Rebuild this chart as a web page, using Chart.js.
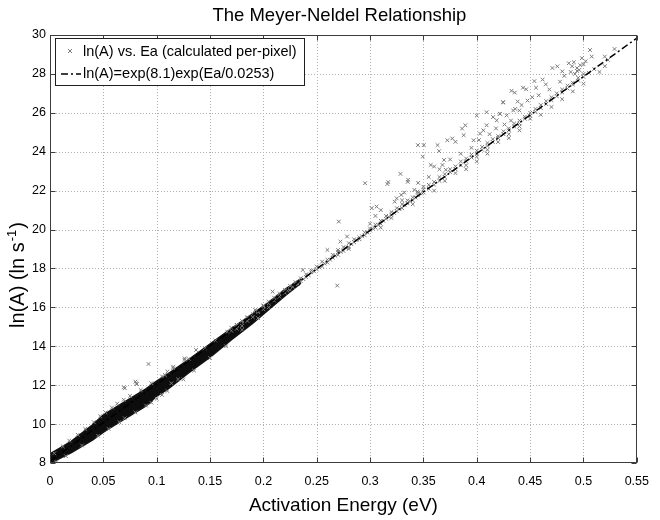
<!DOCTYPE html>
<html>
<head>
<meta charset="utf-8">
<script src="https://cdn.jsdelivr.net/npm/chart.js@4/dist/chart.umd.min.js"></script>
<style>
html,body{margin:0;padding:0;background:#fff;}
#wrap{width:660px;height:520px;}
</style>
</head>
<body>
<div id="wrap"><canvas id="c" width="660" height="520"></canvas></div>
<script>
// ---- data ----
const chartTitle = 'The Meyer-Neldel Relationship';
const xTitle = 'Activation Energy (eV)';
const yTitleMain = 'ln(A) (ln s';
const yTitleSup = '-1';
const yTitleEnd = ')';
const scatterLabel = 'ln(A) vs. Ea (calculated per-pixel)';
const fitLabel = 'ln(A)=exp(8.1)exp(Ea/0.0253)';

const xTicks = [0, 0.05, 0.1, 0.15, 0.2, 0.25, 0.3, 0.35, 0.4, 0.45, 0.5, 0.55];
const xTickLabels = ['0', '0.05', '0.1', '0.15', '0.2', '0.25', '0.3', '0.35', '0.4', '0.45', '0.5', '0.55'];
const yTicks = [8, 10, 12, 14, 16, 18, 20, 22, 24, 26, 28, 30];

// fitted line end points
const fitEa = [0, 0.55];
const fitLnA = [8.1, 29.84];

// dense core of the per-pixel cloud (edges of the solid black band)
const bandEa    = [0,    0.02, 0.04, 0.05,  0.06,  0.075, 0.09,  0.1,   0.11,  0.13,  0.15,  0.17,  0.19,  0.205, 0.22,  0.235];
const bandUpper = [8.45, 9.1,  9.95, 10.45, 10.8,  11.3,  11.8,  12.2,  12.55, 13.3,  14.1,  14.9,  15.65, 16.25, 16.9,  17.45];
const bandLower = [8.0,  8.55, 9.2,  9.6,   9.95,  10.45, 10.95, 11.45, 11.8,  12.65, 13.45, 14.35, 15.2,  15.9,  16.6,  17.25];

// individual per-pixel samples [Ea, ln(A)]
const pixelSamples = [
  // low-energy fringe and outliers
  [0.004,8.5],[0.012,8.85],[0.018,9.15],[0.026,9.45],[0.033,9.75],[0.041,10.1],[0.047,10.4],[0.052,10.6],
  [0.058,10.85],[0.063,11.05],[0.069,11.25],[0.0692,11.89],[0.0701,11.84],[0.075,11.45],[0.08,12.18],[0.0815,12.06],
  [0.0809,12.1],[0.085,11.75],[0.0923,13.09],[0.095,12.1],[0.105,12.45],[0.1077,12.52],[0.11,12.7],[0.1154,12.95],
  [0.1154,12.87],[0.1261,13.38],[0.1261,13.3],[0.13,13.35],[0.1369,13.81],[0.145,13.9],[0.155,14.3],[0.1661,14.75],
  [0.175,15.1],[0.185,15.5],[0.1922,15.87],
  [0.006,8.05],[0.015,8.35],[0.03,8.9],[0.045,9.4],[0.055,9.75],[0.065,10.1],[0.07,10.3],[0.08,10.6],[0.09,10.95],
  [0.095,11.1],[0.1,11.3],[0.105,11.5],[0.11,11.7],[0.1138,12.1],[0.12,12.3],[0.125,12.3],[0.135,12.75],[0.15,13.4],
  [0.165,14.0],[0.18,14.85],[0.195,15.45],[0.205,16.0],
  // along the fitted line
  [0.17,14.8],[0.17,14.95],[0.175,14.9],[0.175,15.1],[0.18,15.05],[0.18,15.2],[0.18,15.3],[0.185,15.3],[0.185,15.45],
  [0.19,15.5],[0.19,15.65],[0.195,15.75],[0.195,15.8],[0.2,15.9],[0.2,16.05],[0.2,16.1],[0.205,16.2],[0.205,16.3],
  [0.21,16.35],[0.21,16.5],[0.215,16.55],[0.215,16.7],[0.22,16.75],[0.22,16.9],[0.225,16.9],[0.225,17.1],[0.23,17.2],
  [0.23,17.3],[0.235,17.35],[0.235,17.5],[0.24,17.55],[0.24,17.7],[0.245,17.8],[0.245,17.9],[0.25,17.95],[0.25,18.1],
  [0.255,18.1],[0.255,18.35],[0.26,18.3],[0.26,18.45],[0.265,18.55],[0.265,18.7],[0.27,18.7],[0.27,18.85],[0.27,18.95],
  [0.275,18.9],[0.275,19.1],[0.28,19.1],[0.28,19.3],[0.28,19.0],[0.285,19.35],[0.285,19.5],[0.29,19.5],[0.29,19.6],
  [0.295,19.7],[0.295,19.85],[0.3,19.95],[0.3,20.05],[0.3,20.3],[0.305,20.1],[0.305,20.25],[0.31,20.3],[0.31,20.45],
  [0.31,20.1],[0.315,20.55],[0.315,20.7],[0.32,20.75],[0.32,20.9],[0.32,20.6],[0.325,20.95],[0.325,21.1],[0.33,21.1],
  [0.33,21.3],[0.33,21.5],[0.335,21.35],[0.335,21.5],[0.34,21.5],[0.34,21.65],[0.34,21.3],[0.345,21.75],[0.345,21.9],
  [0.35,21.9],[0.35,22.05],[0.35,22.2],[0.355,22.1],[0.355,22.3],[0.36,22.3],[0.36,22.45],[0.36,22.0],[0.365,22.5],
  [0.365,22.7],[0.37,22.7],[0.37,22.85],[0.37,22.5],[0.375,22.95],[0.375,23.1],[0.38,23.1],[0.38,23.25],[0.38,22.9],
  [0.385,23.3],[0.385,23.5],[0.39,23.5],[0.39,23.65],[0.39,23.3],[0.395,23.7],[0.395,23.85],[0.4,23.9],[0.4,24.05],
  [0.4,23.75],[0.405,24.1],[0.405,24.25],[0.41,24.3],[0.41,24.45],[0.41,24.1],[0.415,24.5],[0.415,24.65],[0.42,24.7],
  [0.42,24.8],[0.42,24.5],[0.425,24.9],[0.425,25.05],[0.43,25.1],[0.43,25.2],[0.43,24.9],[0.435,25.3],[0.435,25.45],
  [0.44,25.45],[0.44,25.6],[0.44,25.3],[0.445,25.7],[0.445,25.8],[0.45,25.85],[0.45,26.0],[0.45,25.7],[0.455,26.05],
  [0.455,26.2],[0.46,26.25],[0.46,26.4],[0.465,26.45],[0.465,26.6],[0.47,26.65],[0.47,26.8],[0.475,26.85],[0.475,27.0],
  [0.48,27.05],[0.48,27.2],[0.485,27.25],[0.485,27.4],[0.49,27.45],[0.49,27.55],[0.495,27.65],[0.495,27.8],[0.5,27.85],
  [0.5,28.0],[0.505,28.05],[0.51,28.25],
  [0.2225,16.85],[0.2275,17.05],[0.2325,17.2],[0.2375,17.45],[0.2425,17.65],[0.2475,17.85],[0.2525,18.05],[0.2575,18.25],
  [0.2625,18.45],[0.2675,18.65],[0.2725,18.85],[0.2775,19.05],[0.2825,19.25],[0.2875,19.45],[0.2925,19.65],[0.2975,19.85],
  [0.3025,20.05],[0.3075,20.25],[0.3125,20.45],[0.3175,20.65],[0.3225,20.85],[0.3275,21.05],[0.3325,21.25],[0.3375,21.45],
  [0.3425,21.65],[0.3475,21.85],
  // scattered above the line at high energy
  [0.317,22.44],[0.3285,22.86],[0.3356,22.56],[0.3448,24.34],[0.3503,24.34],[0.3494,23.75],[0.3632,24.34],[0.3647,24.03],
  [0.3724,24.59],[0.377,24.68],[0.38,24.51],[0.3877,24.85],[0.3862,25.19],[0.3693,23.58],[0.3678,23.32],[0.36,23.24],
  [0.3709,23.07],[0.3893,25.36],[0.397,24.59],[0.4031,24.93],[0.4061,25.1],[0.4092,25.36],[0.4,25.86],[0.4092,26.03],
  [0.4153,25.78],[0.4215,25.95],[0.4245,26.54],[0.4383,26.58],[0.4399,26.12],[0.4475,26.63],
  [0.5291,29.28],[0.523,28.72],[0.52,28.89],[0.5061,29.23],[0.5077,28.89],[0.4985,28.81],[0.4893,28.39],[0.4862,28.55],
  [0.4939,28.3],[0.4709,28.3],[0.4755,28.39],[0.4801,28.13],[0.4617,27.71],[0.4647,27.46],[0.4555,27.29],[0.454,27.63],
  [0.4433,27.29],[0.4463,27.21],[0.4356,27.04],[0.4325,27.13],[0.4248,26.54],[0.4341,26.12],[0.428,25.87],[0.4218,25.95],
  [0.4187,25.61],[0.492,28.0],[0.496,28.2],[0.5,28.5],[0.502,28.65],[0.497,28.45],[0.494,28.15],[0.488,28.1],[0.491,28.6],
  [0.482,27.9],[0.478,27.6],[0.468,27.2],[0.458,26.9],[0.452,26.8],[0.442,26.4],[0.436,26.2],[0.432,25.6],[0.426,25.4],
  [0.418,25.2],[0.412,24.9],[0.402,24.6],[0.395,24.2],[0.385,23.9],[0.375,23.6],[0.365,23.1],[0.355,22.7],[0.345,22.4],
  [0.332,21.9],[0.325,21.6],[0.31,21.0],[0.305,20.7],
  [0.2086,16.81],[0.2369,17.92],[0.2692,17.12],[0.26,18.95],[0.2707,20.41],[0.2722,19.38],[0.2784,19.64],[0.2953,22.38],
  [0.3015,21.1],[0.3061,21.18],[0.3162,22.34],[0.3353,22.45],[0.3568,23.32],[0.323,21.43],[0.3415,22.04],[0.3445,21.95],
  [0.3292,21.78],
  // slightly below the line
  [0.44,25.1],[0.46,25.9],[0.47,26.3],[0.49,27.1],[0.5,27.5],[0.52,28.4],[0.515,28.1],[0.48,26.7],[0.43,24.7],
  [0.41,23.9],[0.39,23.1],[0.4,23.5]
];

// ---- build datasets ----
const fitData = fitEa.map((e, i) => ({x: e, y: fitLnA[i]}));
const bandLowData = bandEa.map((e, i) => ({x: e, y: bandLower[i]}));
const bandHighData = bandEa.map((e, i) => ({x: e, y: bandUpper[i]}));
const pixelData = pixelSamples.map(p => ({x: p[0], y: p[1]}));

const FONT = "'Liberation Sans', Arial, Helvetica, sans-serif";
const GRAY_MARK = '#7a7a7a';
const FIT_DASH = [7, 3, 2, 3];

const framePlugin = {
  id: 'frame',
  beforeDatasetsDraw(chart) {
    const {ctx, chartArea: a, scales: {x, y}} = chart;
    ctx.save();
    ctx.strokeStyle = '#b0b0b0';
    ctx.lineWidth = 1;
    ctx.setLineDash([1, 2]);
    x.ticks.forEach(t => {
      const px = Math.round(x.getPixelForValue(t.value)) + 0.5;
      if (px > a.left + 2 && px < a.right - 2) {
        ctx.beginPath(); ctx.moveTo(px, a.top); ctx.lineTo(px, a.bottom); ctx.stroke();
      }
    });
    y.ticks.forEach(t => {
      const py = Math.round(y.getPixelForValue(t.value)) + 0.5;
      if (py > a.top + 2 && py < a.bottom - 2) {
        ctx.beginPath(); ctx.moveTo(a.left, py); ctx.lineTo(a.right, py); ctx.stroke();
      }
    });
    ctx.restore();
  },
  afterDatasetsDraw(chart) {
    const {ctx, chartArea: a, scales: {x, y}} = chart;
    ctx.save();
    ctx.strokeStyle = '#3c3c3c';
    ctx.lineWidth = 1;
    ctx.setLineDash([]);
    const L = Math.round(a.left) + 0.5, R = Math.round(a.right) - 0.5;
    const T = Math.round(a.top) + 0.5, B = Math.round(a.bottom) - 0.5;
    ctx.strokeRect(L, T, R - L, B - T);
    const tl = 5;
    ctx.beginPath();
    x.ticks.forEach(t => {
      const px = Math.round(x.getPixelForValue(t.value)) + 0.5;
      ctx.moveTo(px, B); ctx.lineTo(px, B - tl);
      ctx.moveTo(px, T); ctx.lineTo(px, T + tl);
    });
    y.ticks.forEach(t => {
      const py = Math.round(y.getPixelForValue(t.value)) + 0.5;
      ctx.moveTo(L, py); ctx.lineTo(L + tl, py);
      ctx.moveTo(R, py); ctx.lineTo(R - tl, py);
    });
    ctx.stroke();
    ctx.restore();
  },
  afterDraw(chart) {
    const {ctx, chartArea: a} = chart;
    ctx.save();
    // title
    ctx.fillStyle = '#000';
    ctx.font = '18.5px ' + FONT;
    ctx.textAlign = 'center';
    ctx.textBaseline = 'alphabetic';
    ctx.fillText(chartTitle, (a.left + a.right) / 2 - 4, 21);
    // x title
    ctx.font = '19px ' + FONT;
    ctx.fillText(xTitle, (a.left + a.right) / 2, 511);
    // y title with superscript
    ctx.save();
    ctx.translate(24, 276);
    ctx.rotate(-Math.PI / 2);
    ctx.textAlign = 'left';
    ctx.font = '20px ' + FONT;
    const w1 = ctx.measureText(yTitleMain).width;
    ctx.font = '13px ' + FONT;
    const w2 = ctx.measureText(yTitleSup).width;
    ctx.font = '20px ' + FONT;
    const w3 = ctx.measureText(yTitleEnd).width;
    let sx = -(w1 + w2 + w3) / 2;
    ctx.fillText(yTitleMain, sx, 0);
    sx += w1 + 1;
    ctx.font = '13px ' + FONT;
    ctx.fillText(yTitleSup, sx, -8);
    sx += w2 + 1;
    ctx.font = '20px ' + FONT;
    ctx.fillText(yTitleEnd, sx, 0);
    ctx.restore();
    // legend
    const lx = 55.5, ly = 38.5, lw = 249, lh = 47;
    ctx.fillStyle = '#fff';
    ctx.fillRect(lx, ly, lw, lh);
    ctx.strokeStyle = '#202020';
    ctx.lineWidth = 1;
    ctx.strokeRect(lx, ly, lw, lh);
    const ds = chart.data.datasets;
    const sc = ds.find(d => d.label === scatterLabel);
    const ft = ds.find(d => d.label === fitLabel);
    // marker
    ctx.strokeStyle = GRAY_MARK;
    ctx.beginPath();
    ctx.moveTo(68, 49); ctx.lineTo(72, 53);
    ctx.moveTo(72, 49); ctx.lineTo(68, 53);
    ctx.stroke();
    ctx.strokeStyle = '#000';
    ctx.lineWidth = 1.5;
    ctx.setLineDash(FIT_DASH);
    ctx.beginPath(); ctx.moveTo(61, 74); ctx.lineTo(81, 74); ctx.stroke();
    ctx.setLineDash([]);
    ctx.fillStyle = '#000';
    ctx.font = '14.5px ' + FONT;
    ctx.textAlign = 'left';
    ctx.textBaseline = 'middle';
    ctx.fillText(sc.label, 83, 52);
    ctx.fillText(ft.label, 83, 74);
    ctx.restore();
  }
};

new Chart(document.getElementById('c'), {
  type: 'scatter',
  data: {
    datasets: [
      {
        label: fitLabel,
        data: fitData,
        showLine: true,
        borderColor: '#000',
        borderWidth: 1.5,
        borderDash: FIT_DASH,
        pointRadius: 0,
        fill: false
      },
      {
        label: scatterLabel,
        data: pixelData,
        pointStyle: 'crossRot',
        pointRadius: 2.6,
        pointBorderWidth: 1,
        borderColor: GRAY_MARK,
        backgroundColor: GRAY_MARK,
        showLine: false
      },
      {
        label: 'band-low',
        data: bandLowData,
        showLine: true,
        borderColor: '#111',
        borderWidth: 2,
        pointRadius: 0,
        fill: false
      },
      {
        label: 'band-high',
        data: bandHighData,
        showLine: true,
        borderColor: '#111',
        borderWidth: 2,
        backgroundColor: '#0d0d0d',
        pointRadius: 0,
        fill: '-1'
      }
    ]
  },
  options: {
    responsive: false,
    animation: false,
    layout: {padding: {top: 35, right: 14, left: 0, bottom: 0}},
    plugins: {
      legend: {display: false},
      title: {display: false},
      tooltip: {enabled: false}
    },
    scales: {
      x: {
        type: 'linear',
        min: 0, max: 0.55,
        afterBuildTicks: s => { s.ticks = xTicks.map(v => ({value: v})); },
        afterFit: s => { s.height = 57; },
        grid: {display: false, drawTicks: false},
        border: {display: false},
        ticks: {
          callback: (v, i) => xTickLabels[i],
          font: {family: FONT, size: 12.5},
          color: '#000',
          padding: 11,
          maxRotation: 0,
          autoSkip: false
        }
      },
      y: {
        type: 'linear',
        min: 8, max: 30,
        afterBuildTicks: s => { s.ticks = yTicks.map(v => ({value: v})); },
        afterFit: s => { s.width = 50; },
        grid: {display: false, drawTicks: false},
        border: {display: false},
        ticks: {
          callback: (v) => String(v),
          font: {family: FONT, size: 12.5},
          color: '#000',
          padding: 4,
          autoSkip: false
        }
      }
    }
  },
  plugins: [framePlugin]
});
</script>
</body>
</html>
